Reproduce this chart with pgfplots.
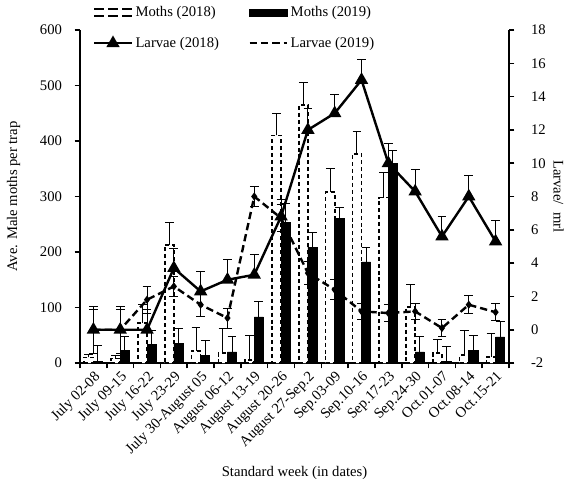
\documentclass[border=0pt]{standalone}
\usepackage{fontspec}
\setmainfont{Liberation Serif}
\usepackage{pgfplots}
\pgfplotsset{compat=1.18}
\usepackage{pgfplotstable}

\pgfplotstableread{
x  m18 e18 m19 e19 l18 le18 l19 le19
0  10  5   3   28  0    1.2  0    1.4
1  8   5   23  25  0    1.2  0    1.4
2  72  33  33  25  0    1.2  1.8  0.8
3  213 40  36  27  3.7  1.2  2.6  0.6
4  22  42  14  27  2.3  1.2  1.5  0.7
5  18  45  20  28  3.0  1.2  0.7  0.6
6  5   45  83  27  3.3  1.2  8.0  0.6
7  410 40  254 34  6.8  1.0  6.7  0.8
8  465 41  209 27  12.0 1.3  3.4  0.7
9  308 43  260 20  13.0 1.1  2.4  0.6
10 377 41  182 27  15.0 1.2  1.1  0.5
11 298 45  360 22  10.0 1.2  1.0  0.5
12 101 40  20  27  8.3  1.3  1.1  0.5
13 18  25  3   27  5.6  1.2  0.1  0.5
14 14  45  23  27  8.0  1.25 1.5  0.55
15 11  43  47  27  5.3  1.25 1.05 0.5
}\data

\newcommand{\tfont}{\fontsize{11}{13}\selectfont}

\pgfplotsset{
  common/.style={
    scale only axis, width=321.75pt, height=249.75pt,
    xmin=-0.5, xmax=15.5,
    tick align=outside,
    tick style={line width=1.2pt, black},
    major tick length=4pt, minor tick length=4pt,
    axis line style={line width=1.6pt},
    /pgf/number format/assume math mode=true,
    ticklabel style={font=\tfont},
    label style={font=\tfont},
    error bars/error mark=-,
    error bars/error bar style={line width=0.75pt, solid, black},
    error bars/error mark options={rotate=90, line width=0.75pt, mark size=3.3pt, solid, black},
  },
  trilegend/.style={legend image code/.code={\draw[mark repeat=2, mark phase=2, ##1] plot coordinates {(0pt,0pt) (14pt,0pt) (28pt,0pt)};}},
  dashlegend/.style={legend image code/.code={\draw[##1, mark=none] (0pt,0pt) -- (28pt,0pt);}},
}

\begin{document}
\begin{tikzpicture}
\path[use as bounding box] (-60pt,-93pt) rectangle (368.25pt,272.25pt);
\begin{axis}[
  common,
  ymin=0, ymax=600,
  axis y line*=left, axis x line*=bottom,
  ytick={0,100,...,600},
  yticklabel style={xshift=-6pt},
  xtick={0,...,15},
  xticklabels={July 02-08, July 09-15, July 16-22, July 23-29, July 30-August 05, August 06-12, August 13-19, August 20-26, August 27-Sep.2, Sep.03-09, Sep.10-16, Sep.17-23, Sep.24-30, Oct.01-07, Oct.08-14, Oct.15-21},
  major x tick style={draw=none},
  minor xtick={-0.5,0.5,...,15.5},
  xticklabel style={rotate=45, anchor=north east, inner sep=1pt},
  ylabel={Ave. Male moths per trap},
  ylabel shift=8pt,
  xlabel={Standard week (in dates)},
  xlabel shift=2pt,
  ybar=0pt, bar width=0.34,
]
\addplot[draw=black, fill=white, line width=1.2pt, dash pattern=on 3pt off 2.2pt,
  error bars/.cd, y dir=plus, y explicit]
  table[x=x, y=m18, y error=e18]{\data};
\addplot[draw=black, fill=black, line width=0.5pt,
  error bars/.cd, y dir=plus, y explicit]
  table[x=x, y=m19, y error=e19]{\data};
\end{axis}
\begin{axis}[
  common,
  ymin=-2, ymax=18,
  axis y line*=right, axis x line=none,
  ytick={-2,0,...,18},
  yticklabel style={xshift=9pt},
  ylabel={Larvae/\ \ mrl}, ylabel style={rotate=180},
  ylabel shift=-1pt,
  legend columns=2,
  legend cell align=left,
  legend style={at={(0.03,1.08)}, anchor=north west, draw=none, fill=none,
    font=\tfont, row sep=10pt, inner sep=0pt,
    /tikz/every even column/.append style={column sep=20pt}},
]
\addlegendimage{legend image code/.code={
  \draw[line width=1.3pt, dash pattern=on 7pt off 3.5pt] (0pt,-2.6pt) -- (28pt,-2.6pt);
  \draw[line width=1.3pt, dash pattern=on 7pt off 3.5pt] (0pt,2.6pt) -- (28pt,2.6pt);}}
\addlegendentry{Moths (2018)}
\addlegendimage{legend image code/.code={
  \fill[black] (0pt,-2.6pt) rectangle (28pt,2.6pt);}}
\addlegendentry{Moths (2019)}
\addplot[black, line width=1.8pt, mark=triangle*, mark size=4pt, mark options={solid},
  trilegend,
  error bars/.cd, y dir=plus, y explicit]
  table[x=x, y=l18, y error=le18]{\data};
\addlegendentry{Larvae (2018)}
\addplot[black, line width=1.8pt, dash pattern=on 5.5pt off 3pt, mark=diamond*, mark size=1.6pt, mark options={solid},
  dashlegend,
  error bars/.cd, y dir=both, y explicit]
  table[x=x, y=l19, y error=le19]{\data};
\addlegendentry{Larvae (2019)}
\end{axis}
\end{tikzpicture}
\end{document}
